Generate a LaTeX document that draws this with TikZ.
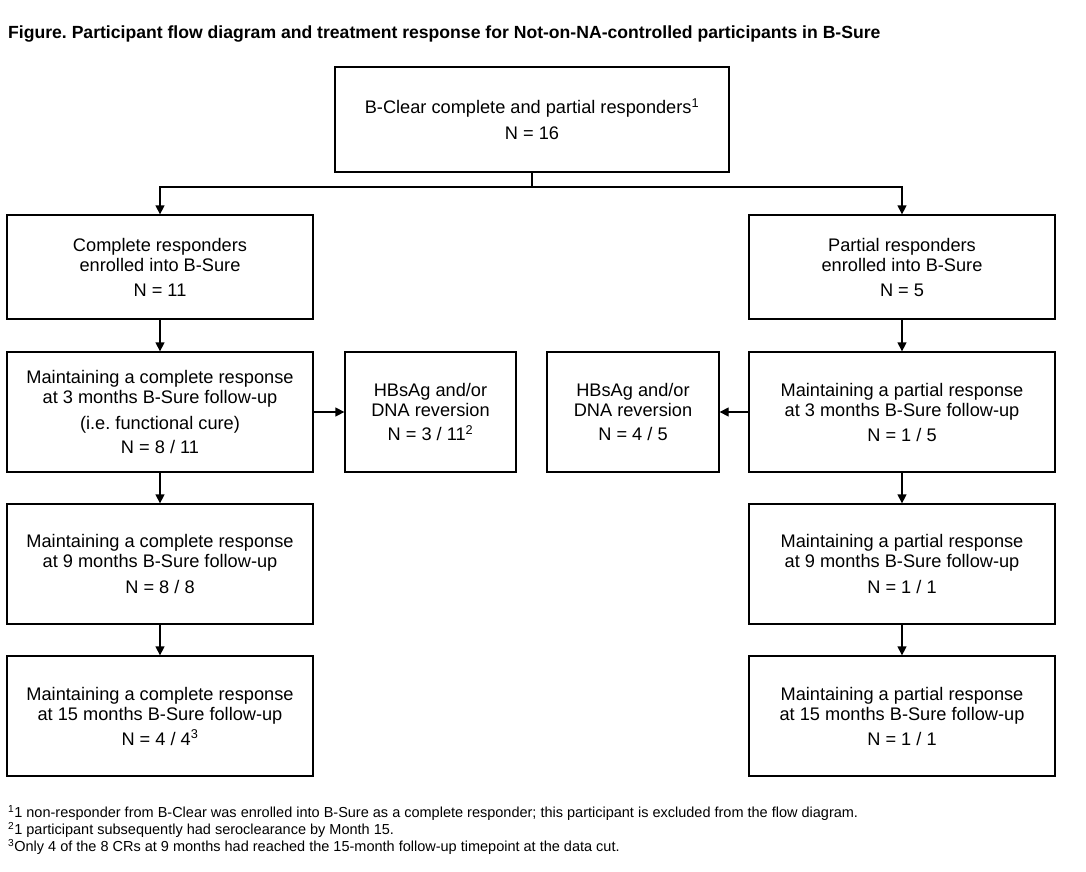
\documentclass[tikz,border=0pt]{standalone}
\usepackage{fontspec}
\setmainfont{Liberation Sans}
\usetikzlibrary{arrows.meta}
\frenchspacing
\begin{document}
\begin{tikzpicture}[x=1pt,y=-1pt,
  box/.style={draw=black, line width=1.3pt, minimum width=306pt, minimum height=120pt, inner sep=0pt, align=center, font=\fontsize{18.2}{20}\selectfont},
  arr/.style={-{Triangle[length=9pt,width=9pt]}, line width=1.3pt},
  ln/.style={line width=1.3pt},
  note/.style={anchor=west, inner sep=0pt, font=\fontsize{14.5}{17}\selectfont}]
\useasboundingbox (0,0) rectangle (1086,872);
\fill[white] (0,0) rectangle (1086,872);
\node[anchor=west, inner sep=0pt, font=\bfseries\fontsize{17.6}{20}\selectfont] (title) at (8,34) {Figure. Participant flow diagram and treatment response for Not-on-NA-controlled participants in B-Sure};

\node[box, minimum width=394pt, minimum height=105pt] (top) at (532,119.5) {B-Clear complete and partial responders\textsuperscript{1}\\[6pt] N = 16};

\node[box, minimum height=104pt] (L1) at (160,267) {\\[-6pt] Complete responders\\ enrolled into B-Sure\\[5pt] N = 11};
\node[box, minimum height=104pt] (R1) at (902,267) {\\[-6pt] Partial responders\\ enrolled into B-Sure\\[5pt] N = 5};

\node[box] (L2) at (160,412) {Maintaining a complete response\\ at 3 months B-Sure follow-up\\[6pt] (i.e. functional cure)\\[4pt] N = 8 / 11};
\node[box, minimum width=171pt] (HL) at (430.5,412) {HBsAg and/or\\ DNA reversion\\[4pt] N = 3 / 11\textsuperscript{2}};
\node[box, minimum width=172pt] (HR) at (633,412) {HBsAg and/or\\ DNA reversion\\[4pt] N = 4 / 5};
\node[box] (R2) at (902,412) {Maintaining a partial response\\ at 3 months B-Sure follow-up\\[5pt] N = 1 / 5};

\node[box] (L3) at (160,564) {Maintaining a complete response\\ at 9 months B-Sure follow-up\\[6pt] N = 8 / 8};
\node[box] (R3) at (902,564) {Maintaining a partial response\\ at 9 months B-Sure follow-up\\[6pt] N = 1 / 1};

\node[box] (L4) at (160,716) {Maintaining a complete response\\ at 15 months B-Sure follow-up\\[5pt] N = 4 / 4\textsuperscript{3}};
\node[box] (R4) at (902,716) {Maintaining a partial response\\ at 15 months B-Sure follow-up\\[5pt] N = 1 / 1};

\coordinate (split) at (532,187);
\draw[ln] (top.south) -- (split);
\draw[arr] (split) -| (L1.north);
\draw[arr] (split) -| (R1.north);
\draw[arr] (L1) -- (L2);
\draw[arr] (L2) -- (L3);
\draw[arr] (L3) -- (L4);
\draw[arr] (R1) -- (R2);
\draw[arr] (R2) -- (R3);
\draw[arr] (R3) -- (R4);
\draw[arr] (L2) -- (HL);
\draw[arr] (R2) -- (HR);

\node[note] (f1) at (8,813) {\textsuperscript{1}1 non-responder from B-Clear was enrolled into B-Sure as a complete responder; this participant is excluded from the flow diagram.};
\node[note] (f2) at (8,830) {\textsuperscript{2}1 participant subsequently had seroclearance by Month 15.};
\node[note] (f3) at (8,847) {\textsuperscript{3}Only 4 of the 8 CRs at 9 months had reached the 15-month follow-up timepoint at the data cut.};
\end{tikzpicture}
\end{document}
